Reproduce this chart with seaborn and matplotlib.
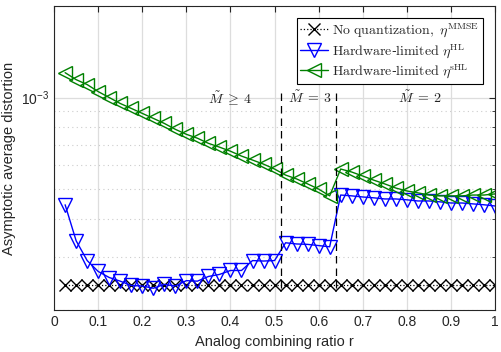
import numpy as np
import pandas as pd
import matplotlib
matplotlib.use('Agg')
import matplotlib.pyplot as plt
import seaborn as sns
from matplotlib.ticker import NullFormatter, FixedLocator
from matplotlib.font_manager import FontProperties

# analog combining ratio r (40 points)
r = [0.025, 0.05, 0.075, 0.1, 0.125, 0.15, 0.175, 0.2, 0.225, 0.25,
     0.275, 0.3, 0.325, 0.35, 0.375, 0.4, 0.425, 0.45, 0.475, 0.5,
     0.525, 0.55, 0.575, 0.6, 0.625, 0.65, 0.675, 0.7, 0.725, 0.75,
     0.775, 0.8, 0.825, 0.85, 0.875, 0.9, 0.925, 0.95, 0.975, 1.0]

# distortion values (x 1e-3)
mmse = [0.241] * 40
hl = [0.444, 0.338, 0.291, 0.268, 0.256, 0.249, 0.241, 0.240, 0.236, 0.243,
      0.240, 0.250, 0.249, 0.258, 0.262, 0.270, 0.270, 0.291, 0.290, 0.291,
      0.333, 0.330, 0.329, 0.326, 0.323, 0.478, 0.475, 0.471, 0.468, 0.464,
      0.464, 0.461, 0.457, 0.457, 0.454, 0.450, 0.450, 0.447, 0.444, 0.440]
shl = [1.207, 1.145, 1.103, 1.046, 1.000, 0.956, 0.921, 0.887, 0.854, 0.822,
       0.786, 0.757, 0.735, 0.707, 0.687, 0.666, 0.642, 0.623, 0.604, 0.582,
       0.556, 0.540, 0.520, 0.500, 0.475, 0.582, 0.569, 0.552, 0.535, 0.520,
       0.504, 0.493, 0.486, 0.478, 0.475, 0.475, 0.475, 0.478, 0.478, 0.482]

# region boundaries and labels
bounds = [0.514, 0.64]
regions = [(0.40, r'$\tilde{M}\;\geq\;4$'), (0.58, r'$\tilde{M}\;=\;3$'), (0.83, r'$\tilde{M}\;=\;2$')]

df = pd.DataFrame({'r': r,
                   'mmse': np.array(mmse) * 1e-3,
                   'hl': np.array(hl) * 1e-3,
                   'shl': np.array(shl) * 1e-3})

sns.set_style('white')
plt.rcParams['font.family'] = ['Liberation Sans', 'DejaVu Sans']
plt.rcParams['mathtext.fontset'] = 'custom'
plt.rcParams['mathtext.rm'] = 'Liberation Sans'
plt.rcParams['mathtext.it'] = 'Liberation Sans:italic'

fig = plt.figure(figsize=(5.01, 3.52), dpi=100)
ax = fig.add_axes([0.108, 0.119, 0.880, 0.864])
ax.set_yscale('log')

sns.lineplot(data=df, x='r', y='mmse', ax=ax, color='black', linestyle=':', lw=0.9,
             marker='x', markersize=9, markeredgecolor='black', markeredgewidth=1.0,
             label=r'$\mathrm{No\ quantization,}\ \eta^{\mathrm{MMSE}}$')
sns.lineplot(data=df, x='r', y='hl', ax=ax, color='blue', lw=1.0,
             marker='v', markersize=10, markerfacecolor='none', markeredgecolor='blue',
             markeredgewidth=1.0, label=r'$\mathrm{Hardware}$-$\mathrm{limited}\ \eta^{\mathrm{HL}}$')
sns.lineplot(data=df, x='r', y='shl', ax=ax, color='green', lw=1.0,
             marker='<', markersize=10, markerfacecolor='none', markeredgecolor='green',
             markeredgewidth=1.0, label=r'$\mathrm{Hardware}$-$\mathrm{limited}\ \eta^{\mathrm{sHL}}$')

for b, top in zip(bounds, [1.078e-3, 1.046e-3]):
    ax.plot([b, b], [2.36e-4, top], color='black', ls=(0, (6, 4)), lw=0.9)

for xr, txt in regions:
    ax.text(xr, 1.0e-3, txt, ha='center', va='center', fontsize=10,
            math_fontfamily='cm', color='#222222')

ax.set_xlim(0, 1)
ax.set_ylim(2e-4, 2e-3)
ax.set_xticks(np.arange(0, 1.01, 0.1))
ax.set_xticklabels(['0', '0.1', '0.2', '0.3', '0.4', '0.5', '0.6', '0.7', '0.8', '0.9', '1'])
ax.yaxis.set_major_locator(FixedLocator([1e-3]))
ax.set_yticklabels([r'$10^{-3}$'])
ax.yaxis.set_minor_locator(FixedLocator([k * 1e-4 for k in range(2, 10)] + [2e-3]))
ax.yaxis.set_minor_formatter(NullFormatter())

ax.grid(True, which='major', color='#dddddd', lw=0.9)
ax.grid(True, which='minor', axis='y', color='#cccccc', ls=(0, (1, 3)), lw=0.8)
ax.set_axisbelow(True)
ax.tick_params(which='both', direction='in', top=True, right=True, labelsize=10, colors='#262626')
ax.tick_params(which='major', length=4)
ax.tick_params(which='minor', length=2.5)
for s in ax.spines.values():
    s.set_color('#262626')
    s.set_linewidth(0.8)

ax.set_xlabel('Analog combining ratio r', fontsize=10.5, color='#262626')
ax.set_ylabel('Asymptotic average distortion', fontsize=10.5, color='#262626')

leg_font = FontProperties(size=10, math_fontfamily='cm')
leg = ax.legend(loc='upper right', bbox_to_anchor=(0.972, 0.962), borderaxespad=0,
                prop=leg_font, frameon=True, fancybox=False, edgecolor='black',
                framealpha=1, handlelength=2.0, handletextpad=0.3, labelspacing=0.2,
                borderpad=0.25, numpoints=1)
leg.get_frame().set_linewidth(0.8)

fig.savefig('out.png', dpi=100)
